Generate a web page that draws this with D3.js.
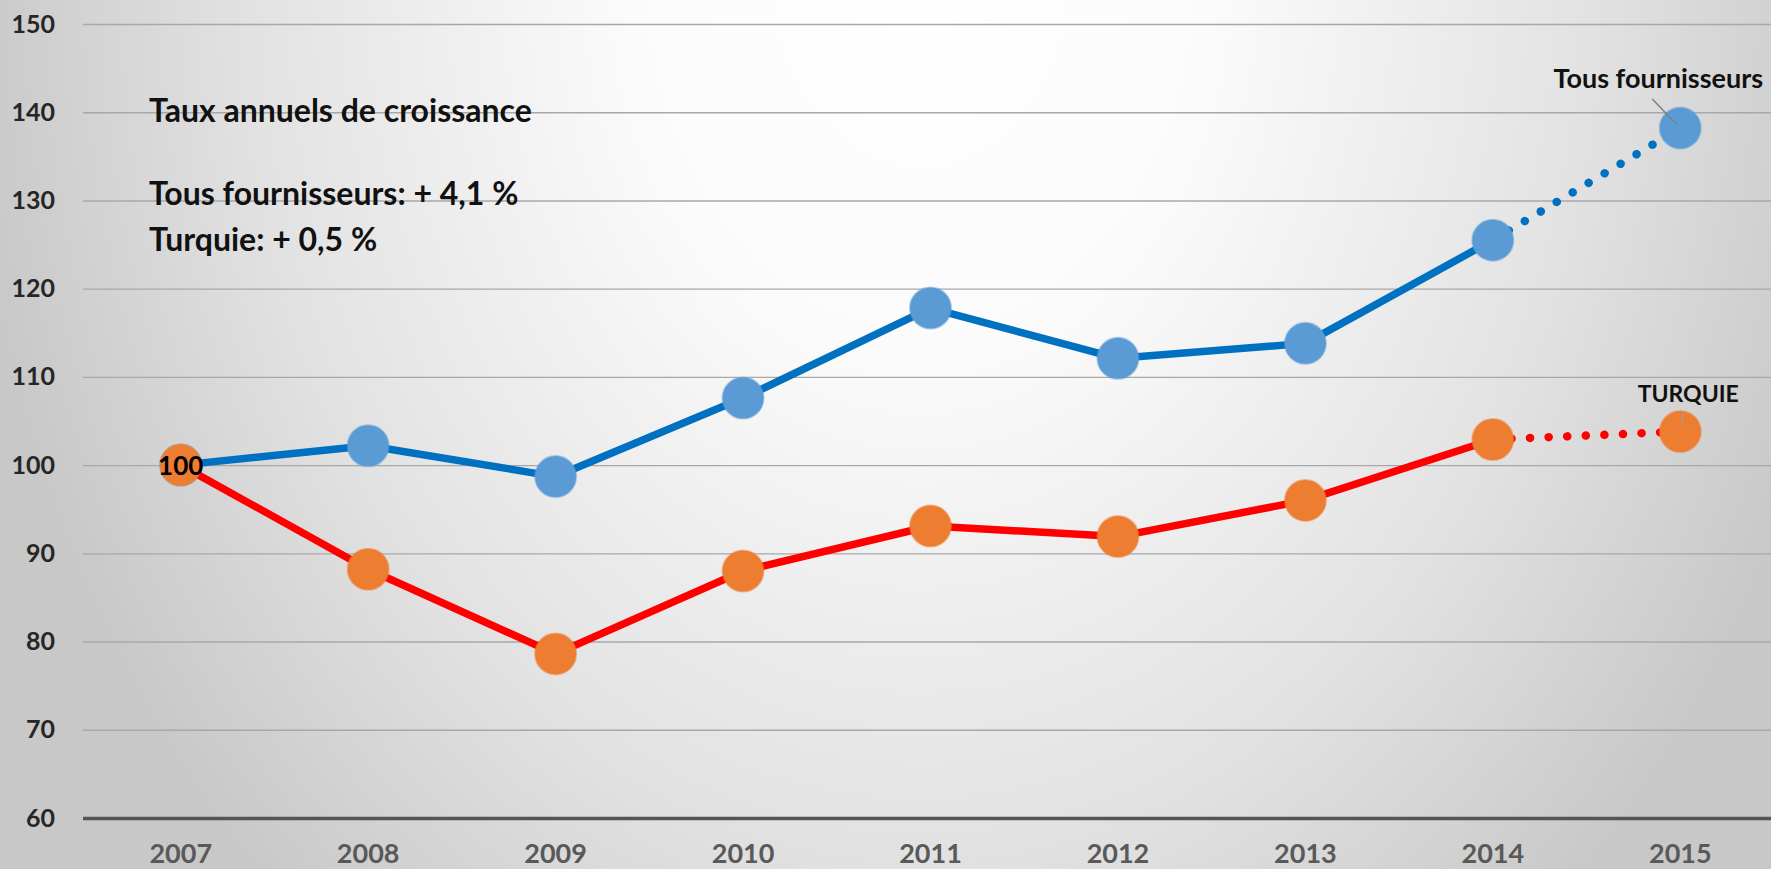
<!DOCTYPE html>
<html>
<head>
<meta charset="utf-8">
<script src="https://cdn.jsdelivr.net/npm/d3@7"></script>
<style>
html,body{margin:0;padding:0;background:#fff;overflow:hidden;}
svg{display:block;font-family:Lato, "Open Sans", sans-serif;}
</style>
</head>
<body>
<svg id="chart" width="1771" height="869"></svg>
<script>
const years = ["2007","2008","2009","2010","2011","2012","2013","2014","2015"];
const tousFournisseurs = [100, 102.2, 98.7, 107.6, 117.8, 112.1, 113.8, 125.5, 138.2];
const turquie = [100, 88.2, 78.6, 88.0, 93.1, 91.9, 96.0, 102.9, 103.8];
const yTicks = [60, 70, 80, 90, 100, 110, 120, 130, 140, 150];
const annotationLines = ["Taux annuels de croissance", "", "Tous fournisseurs: + 4,1 %", "Turquie: + 0,5 %"];
const seriesNames = ["Tous fournisseurs", "TURQUIE"];
const baseLabel = "100";

const W = 1771, H = 869;
const svg = d3.select("#chart");

// background
const defs = svg.append("defs");
const rg = defs.append("radialGradient").attr("id","bg")
  .attr("gradientUnits","userSpaceOnUse")
  .attr("cx",920).attr("cy",-20).attr("r",960)
  .attr("fx",920).attr("fy",-20)
  .attr("gradientTransform","translate(920,0) scale(1,1.3) translate(-920,0)");
rg.append("stop").attr("offset","0").attr("stop-color","#ffffff");
rg.append("stop").attr("offset","0.3").attr("stop-color","#fbfbfb");
rg.append("stop").attr("offset","0.7").attr("stop-color","#e2e2e2");
rg.append("stop").attr("offset","1").attr("stop-color","#c8c8c8");
svg.append("rect").attr("width",W).attr("height",H).attr("fill","url(#bg)");

const x = d3.scaleBand().domain(years).range([87, 1774]);
const cx = d => x(d) + x.bandwidth()/2;
const y = d3.scaleLinear().domain([60,150]).range([818, 24]);

// y axis with gridlines
const gridLeft = 83;
const yAxis = d3.axisLeft(y).tickValues(yTicks).tickSizeInner(-(W - gridLeft)).tickSizeOuter(0).tickPadding(28);
const gy = svg.append("g").attr("transform",`translate(${gridLeft},0)`).call(yAxis);
gy.select(".domain").remove();
gy.selectAll(".tick line").attr("stroke","#a8a8a8").attr("stroke-width",1.4);
gy.selectAll(".tick").filter(d => d === 60).select("line").attr("stroke","#555555").attr("stroke-width",3.5);
gy.selectAll(".tick text").attr("fill","#262626").attr("font-size",25).attr("font-weight","bold")
  .attr("font-family","Lato, sans-serif");

// x axis labels
const xAxis = d3.axisBottom(x).tickSize(0).tickPadding(26);
const gx = svg.append("g").attr("transform","translate(0,818)").call(xAxis);
gx.select(".domain").remove();
gx.selectAll(".tick text").attr("fill","#595959").attr("font-size",27).attr("font-weight","bold")
  .attr("font-family","Lato, sans-serif");

// lines
const line = d3.line().x(d => cx(d.year)).y(d => y(d.v));
function drawSeries(vals, lineColor, markerColor){
  const pts = years.map((yr,i)=>({year:yr, v:vals[i]}));
  const solid = pts.slice(0, 8);
  const dotted = pts.slice(7);
  svg.append("path").datum(solid).attr("d",line).attr("fill","none")
    .attr("stroke",lineColor).attr("stroke-width",7.5).attr("stroke-linejoin","round").attr("stroke-linecap","round");
  svg.append("path").datum(dotted).attr("d",line).attr("fill","none")
    .attr("stroke",lineColor).attr("stroke-width",8.5).attr("stroke-linecap","round")
    .attr("stroke-dasharray","0.1 18.5");
  svg.append("g").selectAll("circle").data(pts).join("circle")
    .attr("cx",d=>cx(d.year)).attr("cy",d=>y(d.v)).attr("r",20.5)
    .attr("fill",markerColor).attr("stroke",markerColor).attr("stroke-opacity",0.5).attr("stroke-width",2);
  return pts;
}
const bluePts = drawSeries(tousFournisseurs, "#0070C0", "#5B9BD5");
const redPts = drawSeries(turquie, "#FF0000", "#ED7D31");

// base label
svg.append("text").attr("x",cx(years[0])).attr("y",y(turquie[0])+10).attr("text-anchor","middle")
  .attr("font-size",26).attr("font-weight","bold").attr("fill","#000").text(baseLabel);

// series labels with leader lines
const lastB = bluePts[8], lastR = redPts[8];
svg.append("line").attr("x1",cx(lastB.year)-28).attr("y1",y(lastB.v)-29)
  .attr("x2",cx(lastB.year)-4).attr("y2",y(lastB.v)-4).attr("stroke","#7f7f7f").attr("stroke-width",1.5);
svg.append("text").attr("x",cx(lastB.year)-22).attr("y",y(lastB.v)-40).attr("text-anchor","middle")
  .attr("font-size",27).attr("font-weight","bold").attr("fill","#111").text(seriesNames[0]);
svg.append("line").attr("x1",cx(lastR.year)+3).attr("y1",y(lastR.v)-19)
  .attr("x2",cx(lastR.year)+1).attr("y2",y(lastR.v)-7).attr("stroke","#a0a0a0").attr("stroke-width",1.2);
svg.append("text").attr("x",cx(lastR.year)+8).attr("y",y(lastR.v)-30).attr("text-anchor","middle")
  .attr("font-size",23).attr("font-weight","bold").attr("fill","#111").text(seriesNames[1]);

// annotation
const annY = [122, 0, 205, 251];
annotationLines.forEach((t,i)=>{
  if(!t) return;
  svg.append("text").attr("x",149).attr("y",annY[i]).attr("font-size",32).attr("font-weight","bold")
    .attr("fill","#111").text(t);
});
</script>
</body>
</html>
